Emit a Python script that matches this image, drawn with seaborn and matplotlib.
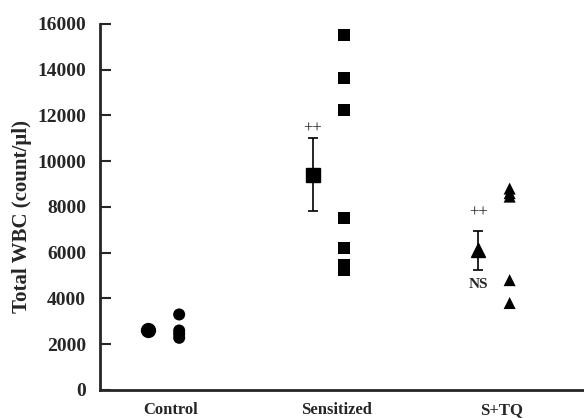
import numpy as np
import pandas as pd
import seaborn as sns
import matplotlib.pyplot as plt

# group labels
groups = ["Control", "Sensitized", "S+TQ"]

# individual animal values (count/ul)
control_pts = [3300, 2600, 2450, 2280]
sensitized_pts = [15500, 13650, 12250, 7500, 6200, 5450, 5250]
stq_pts = [8800, 8600, 8450, 4800, 3800]

# group means and SEM
means = [2600, 9400, 6100]
sems = [80, 1600, 850]

markers = ["o", "s", "^"]
yticks = [0, 2000, 4000, 6000, 8000, 10000, 12000, 14000, 16000]

sns.set_style("ticks")
plt.rcParams["font.family"] = ["Liberation Serif", "DejaVu Serif"]
plt.rcParams["font.weight"] = "bold"

rows = []
for g, pts in zip(groups, [control_pts, sensitized_pts, stq_pts]):
    for v in pts:
        rows.append({"group": g, "value": v})
df = pd.DataFrame(rows)
df["x"] = df["group"].map({g: i for i, g in enumerate(groups)}) + 0.05

fig = plt.figure(figsize=(5.84, 4.18), dpi=100)
ax = fig.add_axes([0.171, 0.067, 0.829, 0.876])

sns.scatterplot(data=df, x="x", y="value", style="group",
                markers=dict(zip(groups, markers)), color="black",
                s=75, edgecolor="black", linewidth=0, legend=False, ax=ax)

for i, (m, e, mk) in enumerate(zip(means, sems, markers)):
    ax.errorbar(i - 0.14, m, yerr=e, fmt=mk, color="black", ms=10,
                capsize=3.5, elinewidth=1.2, capthick=1.2)

# significance marks
ax.text(1 - 0.14, 11400, "++", ha="center", va="center", fontsize=12, fontweight="normal")
ax.text(2 - 0.14, 7750, "++", ha="center", va="center", fontsize=12, fontweight="normal")
ax.text(2 - 0.14, 4600, "NS", ha="center", va="center", fontsize=11, fontweight="bold")

ax.set_xlim(-0.43, 2.5)
ax.set_ylim(0, 16000)
ax.set_yticks(yticks)
ax.set_yticklabels([str(t) for t in yticks], fontsize=14, fontweight="bold")
ax.set_xticks(range(len(groups)))
ax.set_xticklabels(groups, fontsize=12, fontweight="bold")
ax.tick_params(axis="y", direction="in", length=8, width=1.5, pad=10)
ax.tick_params(axis="x", length=0, pad=9)
ax.set_xlabel("")
ax.set_ylabel("Total WBC (count/\u00b5l)", fontsize=15, fontweight="bold")
ax.yaxis.set_label_coords(-0.14, 0.475)

for side in ["top", "right"]:
    ax.spines[side].set_visible(False)
for side in ["left", "bottom"]:
    ax.spines[side].set_linewidth(2)

fig.savefig("out.png", dpi=100)
